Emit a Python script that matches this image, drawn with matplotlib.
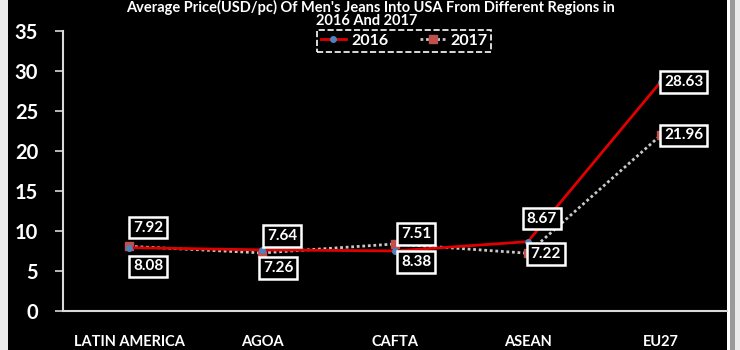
import matplotlib
matplotlib.use("Agg")
import matplotlib.pyplot as plt
from matplotlib.patches import Rectangle

regions = ["LATIN AMERICA", "AGOA", "CAFTA", "ASEAN", "EU27"]
price_2016 = [7.92, 7.64, 7.51, 8.67, 28.63]
price_2017 = [8.08, 7.26, 8.38, 7.22, 21.96]
y_ticks = [0, 5, 10, 15, 20, 25, 30, 35]

# label offsets (pixels) for each point's value box
off_2016 = [(19, 20), (20, 14), (21, 17), (14, 23), (23, 0)]
off_2017 = [(19, -20), (16, -15), (21, -18), (18, -1), (23, 0)]

plt.rcParams['font.family'] = ['Lato', 'DejaVu Sans']
plt.rcParams['font.weight'] = 'bold'

W, H = 740, 350
fig = plt.figure(figsize=(W / 100, H / 100), dpi=100, facecolor='#ebebeb')

# dark panel with a light edge on the right
fig.patches.append(Rectangle((8 / W, 0), (727 - 8) / W, 1, transform=fig.transFigure,
                             facecolor='black', edgecolor='none', zorder=-5))
fig.patches.append(Rectangle((727 / W, 0), 3 / W, 1, transform=fig.transFigure,
                             facecolor='white', edgecolor='none', zorder=-5))
fig.patches.append(Rectangle((730 / W, 0), 5 / W, 1, transform=fig.transFigure,
                             facecolor='#9a9a9a', edgecolor='none', zorder=-5))

ax = fig.add_axes([63 / W, (H - 311) / H, (727 - 63) / W, 280 / H])
ax.set_facecolor('black')
ax.set_zorder(2)

x = list(range(len(regions)))
ax.plot(x, price_2016, color='#e00000', lw=2, marker='o', ms=4,
        mfc='#4f81bd', mec='#4f81bd', label='2016', zorder=3)
ax.plot(x, price_2017, color='#c8c8c8', lw=2, ls=(0, (1, 1)), marker='s', ms=6,
        mfc='#c0504d', mec='#c0504d', label='2017', zorder=2)

box = dict(boxstyle='square,pad=0.25', fc='black', ec='white', lw=1.8)
for i, v in enumerate(price_2016):
    ax.annotate(f"{v:.2f}", (i, v), xytext=off_2016[i], textcoords='offset pixels',
                ha='center', va='center', color='white', fontsize=11,
                fontweight='bold', bbox=box, zorder=5)
for i, v in enumerate(price_2017):
    ax.annotate(f"{v:.2f}", (i, v), xytext=off_2017[i], textcoords='offset pixels',
                ha='center', va='center', color='white', fontsize=11,
                fontweight='bold', bbox=box, zorder=5)

ax.set_xlim(-0.5, len(regions) - 0.5)
ax.set_ylim(0, 35)
ax.set_yticks(y_ticks)
ax.set_yticklabels([str(t) for t in y_ticks], fontsize=14.5, fontweight='bold', color='white')
ax.set_xticks(x)
ax.set_xticklabels(regions, fontsize=10.5, fontweight='bold', color='white')
ax.tick_params(axis='y', length=6, width=1.2, color='#d9d9d9', pad=12)
ax.tick_params(axis='x', length=0, pad=17)
for s in ['top', 'right']:
    ax.spines[s].set_visible(False)
for s in ['left', 'bottom']:
    ax.spines[s].set_color('#d9d9d9')
    ax.spines[s].set_linewidth(1.5)

# two-line title at the top edge
fig.text(370 / W, 1.0, "Average Price(USD/pc) Of Men's Jeans Into USA From Different Regions in",
         ha='center', va='top', color='white', fontsize=10.5, fontweight='bold')
fig.text(367 / W, 1 - 21 / H, "2016 And 2017", ha='center', va='center',
         color='white', fontsize=10.5, fontweight='bold')

leg = ax.legend(loc='center', bbox_to_anchor=(404 / W, 1 - 41 / H),
                bbox_transform=fig.transFigure, ncol=2, frameon=True,
                prop={'size': 11.5, 'weight': 'bold'}, handlelength=1.6,
                handletextpad=0.3, columnspacing=2.0,
                borderpad=0.25, borderaxespad=0, fancybox=False)
for t in leg.get_texts():
    t.set_color('white')
fr = leg.get_frame()
fr.set_facecolor('black')
fr.set_edgecolor('white')
fr.set_linestyle('--')
fr.set_linewidth(1.2)
fr.set_alpha(1)

fig.savefig('out.png', dpi=100, facecolor=fig.get_facecolor())
